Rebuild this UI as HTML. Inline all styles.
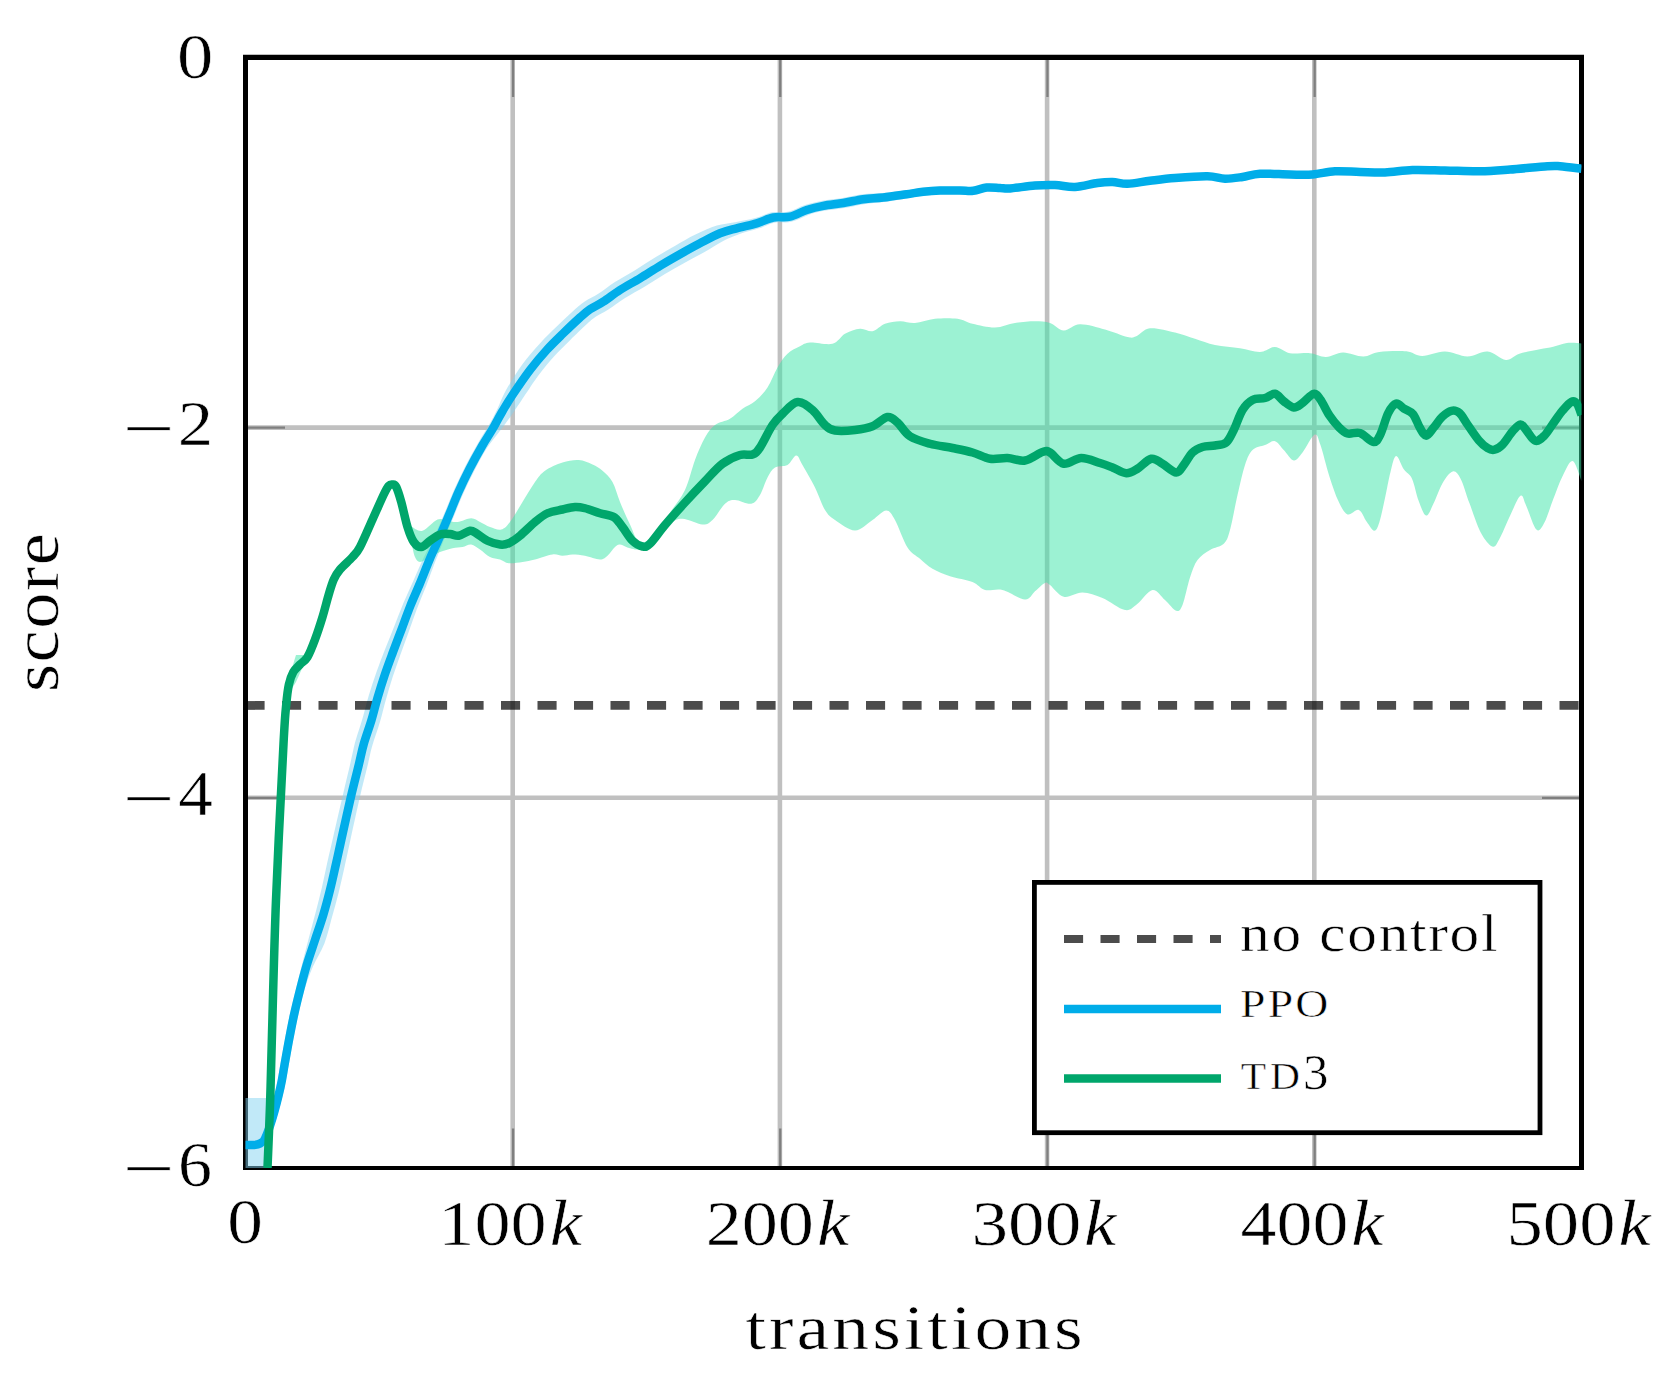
<!DOCTYPE html>
<html lang="en"><head><meta charset="utf-8"><title>score vs transitions</title>
<style>html,body{margin:0;padding:0;background:#fff}svg{display:block}text{font-family:"Liberation Serif",serif;fill:#000;stroke:#fff;stroke-width:0.55px}</style></head><body>
<svg width="1680" height="1390" viewBox="0 0 1680 1390">
<rect width="1680" height="1390" fill="#fff"/>
<path d="M512.70,57.4V1168.0M779.90,57.4V1168.0M1047.10,57.4V1168.0M1314.30,57.4V1168.0M245.5,427.60H1581.5M245.5,797.80H1581.5" stroke="#c0c0c0" stroke-width="4.6" fill="none"/>
<path d="M513.05,57.4v39.5M513.05,1168.0v-39.5M780.25,57.4v39.5M780.25,1168.0v-39.5M1047.45,57.4v39.5M1047.45,1168.0v-39.5M1314.65,57.4v39.5M1314.65,1168.0v-39.5M245.5,427.60h39.5M1581.5,427.60h-39.5M245.5,797.80h39.5M1581.5,797.80h-39.5" stroke="#7f7f7f" stroke-width="2.3" fill="none"/>
<path d="M243,54.8H1584V1170H243ZM248,60V1166H1579V60Z" fill="#000" fill-rule="evenodd"/>
<clipPath id="c"><rect x="245" y="57.4" width="1336.5" height="1110.6"/></clipPath>
<g clip-path="url(#c)" fill="none" stroke-linejoin="round">
<path d="M245.5,1098H270V1170H245.5Z" fill="rgb(131,211,242)" fill-opacity="0.5"/>
<path d="M268.62,1117.00C269.94,1111.85 274.56,1094.89 276.54,1086.10C278.51,1077.32 279.07,1072.08 280.48,1064.27C281.88,1056.46 283.37,1047.59 284.95,1039.23C286.53,1030.87 288.11,1022.48 289.94,1014.11C291.77,1005.73 293.89,997.37 295.93,988.96C297.97,980.55 300.04,972.13 302.19,963.63C304.34,955.13 306.60,946.45 308.83,937.96C311.06,929.47 313.41,921.03 315.57,912.70C317.73,904.36 319.85,896.22 321.79,887.95C323.72,879.68 325.34,871.38 327.19,863.07C329.05,854.77 330.31,849.39 332.90,838.15C335.49,826.90 339.81,808.16 342.74,795.63C345.66,783.10 348.34,771.98 350.44,762.98C352.54,753.98 353.27,749.21 355.33,741.61C357.39,734.02 360.58,725.10 362.82,717.41C365.06,709.71 366.52,702.98 368.79,695.44C371.05,687.91 373.69,679.93 376.42,672.21C379.16,664.49 382.20,656.78 385.18,649.11C388.16,641.44 391.26,633.86 394.29,626.21C397.32,618.57 400.13,610.87 403.35,603.22C406.58,595.57 410.25,587.92 413.64,580.32C417.03,572.71 420.22,564.97 423.70,557.58C427.18,550.19 431.07,543.38 434.53,535.97C437.99,528.55 441.23,520.76 444.47,513.10C447.72,505.44 450.56,497.72 453.99,489.99C457.43,482.26 461.12,474.48 465.08,466.73C469.05,458.98 473.85,450.36 477.77,443.50C481.70,436.64 485.34,431.38 488.63,425.58C491.92,419.78 494.63,414.53 497.49,408.69C500.36,402.85 501.65,397.94 505.81,390.54C509.97,383.13 516.79,372.07 522.44,364.25C528.08,356.44 533.98,349.93 539.70,343.65C545.42,337.37 551.06,332.09 556.73,326.57C562.40,321.05 569.06,314.74 573.73,310.55C578.40,306.37 580.67,304.26 584.76,301.48C588.86,298.70 593.25,297.09 598.28,293.85C603.31,290.62 608.81,286.02 614.95,282.07C621.08,278.13 628.40,274.25 635.08,270.17C641.77,266.09 648.35,261.65 655.05,257.58C661.74,253.51 668.51,249.57 675.24,245.75C681.98,241.92 688.53,237.97 695.46,234.61C702.40,231.26 710.26,227.69 716.86,225.62C723.46,223.55 728.66,223.46 735.03,222.19C741.41,220.92 748.93,219.65 755.14,218.00C761.34,216.34 766.64,213.34 772.26,212.27C777.88,211.20 783.38,212.78 788.85,211.58C794.32,210.38 799.51,206.88 805.09,205.08C810.67,203.27 816.10,201.94 822.34,200.76C828.57,199.58 835.76,199.08 842.47,197.99C849.19,196.90 855.90,195.06 862.62,194.23C869.33,193.39 875.53,193.64 882.78,192.97C890.03,192.31 899.45,191.12 906.13,190.25C912.81,189.38 917.24,188.37 922.86,187.76C928.49,187.14 933.68,186.75 939.87,186.56C946.07,186.36 954.54,186.52 960.04,186.59C965.53,186.65 968.49,187.42 972.87,186.93C977.24,186.44 981.75,184.11 986.30,183.64C990.85,183.18 996.26,183.98 1000.17,184.15C1004.07,184.32 1003.97,185.07 1009.73,184.67C1015.48,184.26 1027.14,182.28 1034.70,181.70C1042.27,181.13 1048.46,180.97 1055.14,181.22C1061.83,181.48 1067.85,183.57 1074.82,183.25C1081.80,182.94 1090.71,180.14 1097.01,179.31C1103.30,178.49 1107.53,178.18 1112.59,178.30C1117.65,178.43 1121.22,180.27 1127.38,180.08C1133.54,179.88 1141.67,178.08 1149.56,177.13C1157.45,176.19 1165.05,175.14 1174.72,174.40C1184.38,173.66 1199.16,172.55 1207.55,172.69C1215.95,172.82 1219.33,175.08 1225.08,175.22C1230.82,175.35 1236.21,174.35 1242.00,173.52C1247.79,172.70 1251.81,170.68 1259.82,170.27C1267.82,169.86 1281.31,170.92 1290.05,171.06C1298.79,171.20 1304.79,171.63 1312.25,171.10C1319.72,170.57 1326.85,168.28 1334.82,167.88C1342.79,167.47 1351.74,168.44 1360.08,168.66C1368.43,168.88 1376.16,169.52 1384.87,169.20C1393.59,168.87 1402.36,167.05 1412.39,166.73C1422.42,166.41 1433.80,167.05 1445.06,167.28C1456.32,167.50 1469.17,168.23 1479.95,168.08C1490.74,167.93 1498.54,167.20 1509.77,166.38C1520.99,165.56 1538.89,163.71 1547.30,163.18C1555.71,162.65 1554.47,162.77 1560.22,163.20C1565.98,163.63 1578.25,165.32 1581.85,165.74L1581.15,171.76C1577.59,171.35 1565.35,169.71 1559.78,169.30C1554.20,168.89 1555.96,168.77 1547.70,169.32C1539.44,169.87 1521.51,171.77 1510.23,172.62C1498.96,173.47 1490.93,174.24 1480.05,174.42C1469.17,174.60 1456.18,173.91 1444.94,173.72C1433.70,173.53 1422.58,172.92 1412.61,173.27C1402.64,173.61 1393.91,175.46 1385.13,175.80C1376.34,176.15 1368.24,175.54 1359.92,175.34C1351.59,175.15 1343.04,174.20 1335.18,174.62C1327.32,175.05 1320.28,177.35 1312.75,177.90C1305.21,178.45 1298.71,178.05 1289.95,177.94C1281.19,177.83 1268.01,176.81 1260.18,177.23C1252.36,177.65 1248.87,179.63 1243.00,180.48C1237.12,181.32 1230.85,182.40 1224.92,182.28C1219.00,182.17 1215.72,179.93 1207.45,179.81C1199.17,179.70 1184.78,180.84 1175.28,181.60C1165.78,182.36 1158.38,183.40 1150.44,184.37C1142.49,185.34 1133.96,187.20 1127.62,187.42C1121.28,187.64 1117.35,185.82 1112.41,185.70C1107.47,185.57 1104.20,185.84 1097.99,186.69C1091.79,187.53 1082.37,190.40 1075.18,190.75C1067.99,191.09 1061.51,189.02 1054.86,188.78C1048.21,188.53 1042.73,188.70 1035.30,189.30C1027.86,189.89 1016.18,191.91 1010.27,192.33C1004.36,192.76 1003.70,192.02 999.83,191.85C995.97,191.69 991.45,190.89 987.10,191.36C982.75,191.82 978.26,194.16 973.73,194.67C969.21,195.18 965.57,194.45 959.96,194.41C954.36,194.38 946.17,194.24 940.13,194.44C934.09,194.65 929.21,195.02 923.74,195.64C918.26,196.26 913.93,197.09 907.27,198.15C900.62,199.21 891.04,201.02 883.82,202.03C876.61,203.03 870.60,203.18 863.98,204.17C857.37,205.17 850.75,206.90 844.13,208.01C837.51,209.12 830.23,209.69 824.26,210.84C818.30,211.99 813.83,213.09 808.31,214.92C802.79,216.75 796.81,220.52 791.15,221.82C785.49,223.12 779.82,221.60 774.34,222.73C768.86,223.86 764.26,226.66 758.26,228.60C752.27,230.55 744.22,232.35 738.37,234.41C732.51,236.48 728.78,238.05 723.14,240.98C717.50,243.91 710.94,248.37 704.54,251.99C698.14,255.60 691.35,258.98 684.76,262.65C678.16,266.33 671.59,270.06 664.95,274.02C658.31,277.99 651.57,282.44 644.92,286.43C638.27,290.41 631.15,294.07 625.05,297.93C618.95,301.78 613.29,306.37 608.32,309.55C603.36,312.72 598.94,314.48 595.28,316.98C591.62,319.48 590.57,320.68 586.37,324.55C582.16,328.43 575.45,334.88 570.05,340.22C564.65,345.56 559.33,350.64 553.98,356.61C548.63,362.58 543.42,368.68 537.96,376.05C532.50,383.42 525.77,394.10 521.22,400.82C516.67,407.54 514.33,411.22 510.67,416.39C507.01,421.55 503.27,426.44 499.26,431.81C495.25,437.17 490.80,442.01 486.60,448.60C482.39,455.19 477.95,463.75 474.03,471.33C470.11,478.90 466.49,486.44 463.07,494.04C459.66,501.64 456.75,509.24 453.55,516.91C450.35,524.57 446.97,532.46 443.87,540.03C440.77,547.61 437.86,554.76 434.95,562.35C432.03,569.95 429.37,577.89 426.37,585.60C423.38,593.32 419.91,601.00 416.97,608.67C414.04,616.34 411.51,623.97 408.75,631.65C405.99,639.33 403.10,647.07 400.39,654.73C397.68,662.39 394.94,670.01 392.48,677.62C390.03,685.23 387.78,692.92 385.66,700.39C383.54,707.87 382.02,714.81 379.77,722.47C377.51,730.13 374.20,738.94 372.11,746.37C370.02,753.80 369.37,758.21 367.23,767.06C365.10,775.92 362.19,787.02 359.31,799.50C356.43,811.98 352.42,830.69 349.95,841.93C347.49,853.18 346.39,858.60 344.52,866.97C342.65,875.35 340.84,883.75 338.73,892.18C336.62,900.62 334.24,909.09 331.87,917.59C329.50,926.08 327.67,934.93 324.50,943.13C321.32,951.34 316.22,958.84 312.82,966.82C309.41,974.80 306.53,982.86 304.07,991.04C301.61,999.22 299.90,1007.60 298.06,1015.89C296.22,1024.18 294.64,1032.46 293.05,1040.77C291.46,1049.08 289.96,1057.87 288.52,1065.73C287.09,1073.58 286.49,1079.02 284.46,1087.90C282.44,1096.78 277.72,1113.82 276.38,1119.00Z" fill="rgb(131,211,242)" fill-opacity="0.5"/>
<path d="M412.00,527.00C413.75,527.62 418.25,532.00 422.50,530.75C426.75,529.50 433.33,521.17 437.50,519.50C441.67,517.83 444.17,520.33 447.50,520.75C450.83,521.17 453.54,522.42 457.50,522.00C461.46,521.58 467.50,518.25 471.25,518.25C475.00,518.25 476.88,520.54 480.00,522.00C483.12,523.46 486.46,525.75 490.00,527.00C493.54,528.25 497.92,530.33 501.25,529.50C504.58,528.67 506.46,526.58 510.00,522.00C513.54,517.42 518.33,508.67 522.50,502.00C526.67,495.33 531.25,487.21 535.00,482.00C538.75,476.79 540.42,474.00 545.00,470.75C549.58,467.50 556.88,464.29 562.50,462.50C568.12,460.71 573.75,459.67 578.75,460.00C583.75,460.33 588.54,462.71 592.50,464.50C596.46,466.29 599.17,467.83 602.50,470.75C605.83,473.67 609.58,476.79 612.50,482.00C615.42,487.21 617.08,494.92 620.00,502.00C622.92,509.08 626.67,517.67 630.00,524.50C633.33,531.33 635.83,541.58 640.00,543.00C644.17,544.42 650.00,538.08 655.00,533.00C660.00,527.92 665.00,519.67 670.00,512.50C675.00,505.33 680.83,498.75 685.00,490.00C689.17,481.25 691.67,468.75 695.00,460.00C698.33,451.25 701.67,443.33 705.00,437.50C708.33,431.67 710.83,428.12 715.00,425.00C719.17,421.88 725.42,421.46 730.00,418.75C734.58,416.04 738.33,411.67 742.50,408.75C746.67,405.83 750.83,404.79 755.00,401.25C759.17,397.71 763.75,393.12 767.50,387.50C771.25,381.88 774.17,373.12 777.50,367.50C780.83,361.88 783.75,357.29 787.50,353.75C791.25,350.21 796.25,348.12 800.00,346.25C803.75,344.38 804.58,342.92 810.00,342.50C815.42,342.08 826.67,345.21 832.50,343.75C838.33,342.29 840.42,336.25 845.00,333.75C849.58,331.25 855.42,329.17 860.00,328.75C864.58,328.33 868.33,332.08 872.50,331.25C876.67,330.42 880.42,325.42 885.00,323.75C889.58,322.08 895.00,321.38 900.00,321.25C905.00,321.12 909.17,323.42 915.00,323.00C920.83,322.58 927.92,319.46 935.00,318.75C942.08,318.04 951.25,317.92 957.50,318.75C963.75,319.58 966.25,322.29 972.50,323.75C978.75,325.21 987.92,327.62 995.00,327.50C1002.08,327.38 1008.33,324.04 1015.00,323.00C1021.67,321.96 1029.17,321.25 1035.00,321.25C1040.83,321.25 1045.21,321.46 1050.00,323.00C1054.79,324.54 1058.75,330.29 1063.75,330.50C1068.75,330.71 1073.12,324.42 1080.00,324.25C1086.88,324.08 1097.08,327.38 1105.00,329.50C1112.92,331.62 1122.29,335.88 1127.50,337.00C1132.71,338.12 1132.50,337.71 1136.25,336.25C1140.00,334.79 1143.54,328.88 1150.00,328.25C1156.46,327.62 1167.50,330.75 1175.00,332.50C1182.50,334.25 1188.33,336.67 1195.00,338.75C1201.67,340.83 1207.50,343.42 1215.00,345.00C1222.50,346.58 1232.50,347.08 1240.00,348.25C1247.50,349.42 1254.17,352.21 1260.00,352.00C1265.83,351.79 1270.00,346.79 1275.00,347.00C1280.00,347.21 1284.17,352.21 1290.00,353.25C1295.83,354.29 1304.00,352.62 1310.00,353.25C1316.00,353.88 1320.50,357.12 1326.00,357.00C1331.50,356.88 1336.78,352.58 1343.00,352.50C1349.22,352.42 1357.27,356.58 1363.30,356.50C1369.33,356.42 1372.03,352.87 1379.20,352.00C1386.37,351.13 1399.15,350.62 1406.30,351.30C1413.45,351.98 1415.68,356.05 1422.10,356.10C1428.52,356.15 1437.25,351.53 1444.80,351.60C1452.35,351.67 1460.25,356.50 1467.40,356.50C1474.55,356.50 1481.30,351.02 1487.70,351.60C1494.10,352.18 1500.52,359.63 1505.80,360.00C1511.08,360.37 1513.73,355.58 1519.40,353.80C1525.07,352.02 1534.15,350.47 1539.80,349.30C1545.45,348.13 1548.78,347.85 1553.30,346.80C1557.82,345.75 1562.20,343.57 1566.90,343.00C1571.60,342.43 1579.07,343.33 1581.50,343.40L1581.50,481.00C1580.02,477.67 1575.78,461.77 1572.60,461.00C1569.42,460.23 1565.62,470.07 1562.40,476.40C1559.18,482.73 1556.32,491.27 1553.30,499.00C1550.28,506.73 1547.12,517.70 1544.30,522.80C1541.48,527.90 1539.42,532.43 1536.40,529.60C1533.38,526.77 1528.85,511.45 1526.20,505.80C1523.55,500.15 1523.13,494.18 1520.50,495.70C1517.87,497.22 1513.98,507.55 1510.40,514.90C1506.82,522.25 1502.02,534.53 1499.00,539.80C1495.98,545.07 1495.30,547.63 1492.30,546.50C1489.30,545.37 1484.78,540.15 1481.00,533.00C1477.22,525.85 1473.00,512.65 1469.60,503.60C1466.20,494.55 1463.42,484.05 1460.60,478.70C1457.78,473.35 1455.72,470.75 1452.70,471.50C1449.68,472.25 1445.70,477.85 1442.50,483.20C1439.30,488.55 1436.22,498.20 1433.50,503.60C1430.78,509.00 1428.65,515.98 1426.20,515.60C1423.75,515.22 1421.17,507.45 1418.80,501.30C1416.43,495.15 1414.47,483.98 1412.00,478.70C1409.53,473.42 1406.65,473.38 1404.00,469.60C1401.35,465.82 1398.35,455.62 1396.10,456.00C1393.85,456.38 1392.38,464.73 1390.50,471.90C1388.62,479.07 1386.68,490.52 1384.80,499.00C1382.92,507.48 1380.97,517.52 1379.20,522.80C1377.43,528.08 1376.28,530.88 1374.20,530.70C1372.12,530.52 1369.27,525.17 1366.70,521.70C1364.13,518.23 1362.00,511.12 1358.80,509.90C1355.60,508.68 1350.88,515.83 1347.50,514.40C1344.12,512.97 1341.52,507.63 1338.50,501.30C1335.48,494.97 1332.42,485.82 1329.40,476.40C1326.38,466.98 1322.85,451.77 1320.40,444.80C1317.95,437.83 1317.68,433.32 1314.70,434.60C1311.72,435.88 1305.99,448.18 1302.50,452.50C1299.01,456.82 1296.88,460.92 1293.75,460.50C1290.62,460.08 1286.88,453.21 1283.75,450.00C1280.62,446.79 1278.12,442.08 1275.00,441.25C1271.88,440.42 1268.75,443.54 1265.00,445.00C1261.25,446.46 1255.83,446.67 1252.50,450.00C1249.17,453.33 1247.50,457.50 1245.00,465.00C1242.50,472.50 1240.00,484.17 1237.50,495.00C1235.00,505.83 1232.29,521.88 1230.00,530.00C1227.71,538.12 1227.08,540.42 1223.75,543.75C1220.42,547.08 1214.38,547.29 1210.00,550.00C1205.62,552.71 1200.83,555.42 1197.50,560.00C1194.17,564.58 1192.50,570.00 1190.00,577.50C1187.50,585.00 1184.79,599.46 1182.50,605.00C1180.21,610.54 1179.17,611.58 1176.25,610.75C1173.33,609.92 1168.96,603.46 1165.00,600.00C1161.04,596.54 1157.08,589.38 1152.50,590.00C1147.92,590.62 1142.08,600.42 1137.50,603.75C1132.92,607.08 1130.83,610.96 1125.00,610.00C1119.17,609.04 1109.58,600.92 1102.50,598.00C1095.42,595.08 1088.96,592.71 1082.50,592.50C1076.04,592.29 1069.17,598.00 1063.75,596.75C1058.33,595.50 1053.12,587.29 1050.00,585.00C1046.88,582.71 1047.50,581.96 1045.00,583.00C1042.50,584.04 1038.33,588.50 1035.00,591.25C1031.67,594.00 1030.42,599.71 1025.00,599.50C1019.58,599.29 1009.17,591.58 1002.50,590.00C995.83,588.42 990.00,591.33 985.00,590.00C980.00,588.67 978.33,584.29 972.50,582.00C966.67,579.71 956.67,578.46 950.00,576.25C943.33,574.04 937.50,571.67 932.50,568.75C927.50,565.83 924.17,562.29 920.00,558.75C915.83,555.21 911.67,553.96 907.50,547.50C903.33,541.04 898.54,526.17 895.00,520.00C891.46,513.83 890.00,510.50 886.25,510.50C882.50,510.50 877.71,516.67 872.50,520.00C867.29,523.33 861.25,530.50 855.00,530.50C848.75,530.50 840.00,523.42 835.00,520.00C830.00,516.58 828.33,515.42 825.00,510.00C821.67,504.58 818.75,495.00 815.00,487.50C811.25,480.00 805.62,470.33 802.50,465.00C799.38,459.67 798.75,455.50 796.25,455.50C793.75,455.50 791.04,463.00 787.50,465.00C783.96,467.00 778.33,465.42 775.00,467.50C771.67,469.58 770.00,472.92 767.50,477.50C765.00,482.08 762.71,490.62 760.00,495.00C757.29,499.38 755.42,502.92 751.25,503.75C747.08,504.58 739.38,500.00 735.00,500.00C730.62,500.00 728.75,500.42 725.00,503.75C721.25,507.08 716.25,516.54 712.50,520.00C708.75,523.46 707.50,524.71 702.50,524.50C697.50,524.29 687.92,518.88 682.50,518.75C677.08,518.62 674.58,520.21 670.00,523.75C665.42,527.29 660.00,535.79 655.00,540.00C650.00,544.21 644.17,547.62 640.00,549.00C635.83,550.38 633.33,549.00 630.00,548.25C626.67,547.50 622.50,544.71 620.00,544.50C617.50,544.29 617.08,545.12 615.00,547.00C612.92,548.88 610.00,553.67 607.50,555.75C605.00,557.83 603.75,559.50 600.00,559.50C596.25,559.50 589.58,556.58 585.00,555.75C580.42,554.92 576.25,554.50 572.50,554.50C568.75,554.50 565.83,555.75 562.50,555.75C559.17,555.75 557.08,553.88 552.50,554.50C547.92,555.12 540.00,558.25 535.00,559.50C530.00,560.75 526.88,561.38 522.50,562.00C518.12,562.62 512.50,563.67 508.75,563.25C505.00,562.83 503.12,560.54 500.00,559.50C496.88,558.46 493.33,558.67 490.00,557.00C486.67,555.33 483.12,551.58 480.00,549.50C476.88,547.42 474.17,544.92 471.25,544.50C468.33,544.08 465.62,546.38 462.50,547.00C459.38,547.62 456.25,547.42 452.50,548.25C448.75,549.08 443.75,550.54 440.00,552.00C436.25,553.46 433.33,555.33 430.00,557.00C426.67,558.67 422.50,562.00 420.00,562.00C417.50,562.00 416.33,559.83 415.00,557.00C413.67,554.17 412.50,547.00 412.00,545.00Z" fill="rgb(58,229,168)" fill-opacity="0.5"/>
<path d="M292,668 L296,655 L303,655 L304,664 L296,682 L291,690Z" fill="rgb(58,229,168)" fill-opacity="0.5"/>
<path d="M245.5,705.46H1581.5" stroke="#000" stroke-opacity="0.7" stroke-width="8.8" stroke-dasharray="19.1 17.4"/>
<path d="M245.50,1145.00C246.92,1145.00 251.58,1145.25 254.00,1145.00C256.42,1144.75 258.17,1144.58 260.00,1143.50C261.83,1142.42 262.92,1142.75 265.00,1138.50C267.08,1134.25 269.92,1126.58 272.50,1118.00C275.08,1109.42 278.50,1095.83 280.50,1087.00C282.50,1078.17 283.08,1072.83 284.50,1065.00C285.92,1057.17 287.42,1048.33 289.00,1040.00C290.58,1031.67 292.17,1023.33 294.00,1015.00C295.83,1006.67 297.88,998.33 300.00,990.00C302.12,981.67 304.25,973.33 306.75,965.00C309.25,956.67 312.25,948.33 315.00,940.00C317.75,931.67 320.75,923.33 323.25,915.00C325.75,906.67 327.92,898.33 330.00,890.00C332.08,881.67 333.88,873.33 335.75,865.00C337.62,856.67 338.75,851.25 341.25,840.00C343.75,828.75 347.83,810.00 350.75,797.50C353.67,785.00 356.58,773.92 358.75,765.00C360.92,756.08 361.62,751.50 363.75,744.00C365.88,736.50 369.21,727.67 371.50,720.00C373.79,712.33 375.30,705.50 377.50,698.00C379.70,690.50 382.12,682.67 384.70,675.00C387.28,667.33 390.17,659.67 393.00,652.00C395.83,644.33 398.82,636.67 401.70,629.00C404.58,621.33 407.23,613.67 410.30,606.00C413.37,598.33 416.92,590.67 420.10,583.00C423.28,575.33 426.22,567.50 429.40,560.00C432.58,552.50 435.93,545.50 439.20,538.00C442.47,530.50 445.78,522.67 449.00,515.00C452.22,507.33 455.08,499.67 458.50,492.00C461.92,484.33 465.57,476.67 469.50,469.00C473.43,461.33 478.17,452.80 482.10,446.00C486.03,439.20 489.73,433.95 493.10,428.20C496.47,422.45 499.07,417.03 502.30,411.50C505.53,405.97 507.88,401.92 512.50,395.00C517.12,388.08 524.30,377.50 530.00,370.00C535.70,362.50 541.15,356.12 546.70,350.00C552.25,343.88 557.75,338.72 563.30,333.30C568.85,327.88 575.55,321.52 580.00,317.50C584.45,313.48 586.12,311.83 590.00,309.20C593.88,306.57 598.30,304.90 603.30,301.70C608.30,298.50 613.88,293.90 620.00,290.00C626.12,286.10 633.33,282.33 640.00,278.30C646.67,274.27 653.33,269.82 660.00,265.80C666.67,261.78 673.33,257.95 680.00,254.20C686.67,250.45 693.33,246.78 700.00,243.30C706.67,239.82 713.88,235.80 720.00,233.30C726.12,230.80 730.58,229.97 736.70,228.30C742.82,226.63 750.60,225.10 756.70,223.30C762.80,221.50 767.75,218.60 773.30,217.50C778.85,216.40 784.43,217.95 790.00,216.70C795.57,215.45 801.15,211.82 806.70,210.00C812.25,208.18 817.20,206.97 823.30,205.80C829.40,204.63 836.63,204.10 843.30,203.00C849.97,201.90 856.63,200.12 863.30,199.20C869.97,198.28 876.07,198.33 883.30,197.50C890.53,196.67 900.03,195.17 906.70,194.20C913.37,193.23 917.75,192.32 923.30,191.70C928.85,191.08 933.88,190.70 940.00,190.50C946.12,190.30 954.45,190.45 960.00,190.50C965.55,190.55 968.85,191.30 973.30,190.80C977.75,190.30 982.25,187.97 986.70,187.50C991.15,187.03 996.12,187.83 1000.00,188.00C1003.88,188.17 1004.17,188.92 1010.00,188.50C1015.83,188.08 1027.50,186.08 1035.00,185.50C1042.50,184.92 1048.33,184.75 1055.00,185.00C1061.67,185.25 1067.92,187.33 1075.00,187.00C1082.08,186.67 1091.25,183.83 1097.50,183.00C1103.75,182.17 1107.50,181.88 1112.50,182.00C1117.50,182.12 1121.25,183.96 1127.50,183.75C1133.75,183.54 1142.08,181.71 1150.00,180.75C1157.92,179.79 1165.42,178.75 1175.00,178.00C1184.58,177.25 1199.17,176.12 1207.50,176.25C1215.83,176.38 1219.17,178.62 1225.00,178.75C1230.83,178.88 1236.67,177.83 1242.50,177.00C1248.33,176.17 1252.08,174.17 1260.00,173.75C1267.92,173.33 1281.25,174.38 1290.00,174.50C1298.75,174.62 1305.00,175.04 1312.50,174.50C1320.00,173.96 1327.08,171.67 1335.00,171.25C1342.92,170.83 1351.67,171.79 1360.00,172.00C1368.33,172.21 1376.25,172.83 1385.00,172.50C1393.75,172.17 1402.50,170.33 1412.50,170.00C1422.50,169.67 1433.75,170.29 1445.00,170.50C1456.25,170.71 1469.17,171.42 1480.00,171.25C1490.83,171.08 1498.75,170.33 1510.00,169.50C1521.25,168.67 1539.17,166.79 1547.50,166.25C1555.83,165.71 1554.33,165.83 1560.00,166.25C1565.67,166.67 1577.92,168.33 1581.50,168.75" stroke="#00ade9" stroke-width="8.5"/>
<path d="M267.50,1168.00C267.92,1157.58 269.29,1126.33 270.00,1105.50C270.71,1084.67 270.75,1077.25 271.75,1043.00C272.75,1008.75 274.04,949.83 276.00,900.00C277.96,850.17 281.79,776.58 283.50,744.00C285.21,711.42 285.35,714.42 286.25,704.50C287.15,694.58 287.72,689.92 288.90,684.50C290.07,679.08 291.45,675.33 293.30,672.00C295.15,668.67 297.63,667.00 300.00,664.50C302.37,662.00 305.00,661.17 307.50,657.00C310.00,652.83 312.50,646.17 315.00,639.50C317.50,632.83 320.21,624.50 322.50,617.00C324.79,609.50 326.88,600.75 328.75,594.50C330.62,588.25 331.88,583.67 333.75,579.50C335.62,575.33 336.88,573.25 340.00,569.50C343.12,565.75 349.17,560.75 352.50,557.00C355.83,553.25 356.67,553.25 360.00,547.00C363.33,540.75 368.54,528.25 372.50,519.50C376.46,510.75 381.04,500.12 383.75,494.50C386.46,488.88 387.29,487.42 388.75,485.75C390.21,484.08 391.25,484.29 392.50,484.50C393.75,484.71 394.79,484.08 396.25,487.00C397.71,489.92 399.38,495.33 401.25,502.00C403.12,508.67 405.42,520.33 407.50,527.00C409.58,533.67 411.46,538.67 413.75,542.00C416.04,545.33 418.54,547.21 421.25,547.00C423.96,546.79 426.88,542.83 430.00,540.75C433.12,538.67 436.67,535.62 440.00,534.50C443.33,533.38 446.88,533.79 450.00,534.00C453.12,534.21 455.42,536.29 458.75,535.75C462.08,535.21 467.08,531.17 470.00,530.75C472.92,530.33 473.33,531.58 476.25,533.25C479.17,534.92 483.54,538.88 487.50,540.75C491.46,542.62 496.46,544.08 500.00,544.50C503.54,544.92 505.42,544.71 508.75,543.25C512.08,541.79 515.62,539.29 520.00,535.75C524.38,532.21 530.42,525.75 535.00,522.00C539.58,518.25 542.92,515.33 547.50,513.25C552.08,511.17 557.92,510.54 562.50,509.50C567.08,508.46 571.25,507.21 575.00,507.00C578.75,506.79 580.83,507.21 585.00,508.25C589.17,509.29 595.21,511.79 600.00,513.25C604.79,514.71 610.00,514.71 613.75,517.00C617.50,519.29 619.38,523.04 622.50,527.00C625.62,530.96 629.17,537.50 632.50,540.75C635.83,544.00 639.58,546.00 642.50,546.50C645.42,547.00 646.25,547.33 650.00,543.75C653.75,540.17 659.17,531.88 665.00,525.00C670.83,518.12 678.33,509.79 685.00,502.50C691.67,495.21 698.75,487.71 705.00,481.25C711.25,474.79 716.67,468.12 722.50,463.75C728.33,459.38 735.00,456.54 740.00,455.00C745.00,453.46 749.17,455.75 752.50,454.50C755.83,453.25 756.67,452.42 760.00,447.50C763.33,442.58 768.75,430.62 772.50,425.00C776.25,419.38 778.33,417.58 782.50,413.75C786.67,409.92 792.50,402.62 797.50,402.00C802.50,401.38 807.92,406.17 812.50,410.00C817.08,413.83 821.25,421.58 825.00,425.00C828.75,428.42 830.00,429.67 835.00,430.50C840.00,431.33 848.75,430.71 855.00,430.00C861.25,429.29 867.08,428.42 872.50,426.25C877.92,424.08 883.33,417.62 887.50,417.00C891.67,416.38 893.75,419.29 897.50,422.50C901.25,425.71 904.58,432.71 910.00,436.25C915.42,439.79 922.92,441.79 930.00,443.75C937.08,445.71 945.42,446.54 952.50,448.00C959.58,449.46 966.25,450.71 972.50,452.50C978.75,454.29 984.17,457.83 990.00,458.75C995.83,459.67 1001.67,457.71 1007.50,458.00C1013.33,458.29 1019.17,461.50 1025.00,460.50C1030.83,459.50 1038.33,453.33 1042.50,452.00C1046.67,450.67 1046.46,450.54 1050.00,452.50C1053.54,454.46 1058.54,462.83 1063.75,463.75C1068.96,464.67 1075.21,458.12 1081.25,458.00C1087.29,457.88 1094.79,461.42 1100.00,463.00C1105.21,464.58 1108.12,465.79 1112.50,467.50C1116.88,469.21 1122.08,473.04 1126.25,473.25C1130.42,473.46 1133.33,471.17 1137.50,468.75C1141.67,466.33 1147.08,459.58 1151.25,458.75C1155.42,457.92 1158.33,461.46 1162.50,463.75C1166.67,466.04 1172.71,472.29 1176.25,472.50C1179.79,472.71 1181.04,468.33 1183.75,465.00C1186.46,461.67 1189.38,455.50 1192.50,452.50C1195.62,449.50 1198.75,448.17 1202.50,447.00C1206.25,445.83 1211.04,446.25 1215.00,445.50C1218.96,444.75 1223.12,445.08 1226.25,442.50C1229.38,439.92 1231.04,435.42 1233.75,430.00C1236.46,424.58 1239.38,415.00 1242.50,410.00C1245.62,405.00 1248.75,402.00 1252.50,400.00C1256.25,398.00 1261.25,399.04 1265.00,398.00C1268.75,396.96 1271.88,393.21 1275.00,393.75C1278.12,394.29 1280.62,398.96 1283.75,401.25C1286.88,403.54 1290.62,407.21 1293.75,407.50C1296.88,407.79 1299.19,405.27 1302.50,403.00C1305.81,400.73 1310.62,394.48 1313.60,393.90C1316.58,393.32 1317.77,395.92 1320.40,399.50C1323.03,403.08 1326.38,410.87 1329.40,415.40C1332.42,419.93 1335.48,423.68 1338.50,426.70C1341.52,429.72 1343.92,432.45 1347.50,433.50C1351.08,434.55 1355.67,431.58 1360.00,433.00C1364.33,434.42 1370.12,441.73 1373.50,442.00C1376.88,442.27 1377.85,439.42 1380.30,434.60C1382.75,429.78 1385.57,418.27 1388.20,413.10C1390.83,407.93 1393.47,404.35 1396.10,403.60C1398.73,402.85 1401.17,406.83 1404.00,408.60C1406.83,410.37 1410.45,411.00 1413.10,414.20C1415.75,417.40 1417.72,424.22 1419.90,427.80C1422.08,431.38 1423.93,435.70 1426.20,435.70C1428.47,435.70 1430.78,431.00 1433.50,427.80C1436.22,424.60 1439.50,419.33 1442.50,416.50C1445.50,413.67 1448.67,411.37 1451.50,410.80C1454.33,410.23 1456.85,410.83 1459.50,413.10C1462.15,415.37 1464.20,419.88 1467.40,424.40C1470.60,428.92 1475.32,436.23 1478.70,440.20C1482.08,444.17 1485.07,446.62 1487.70,448.20C1490.33,449.78 1492.05,450.27 1494.50,449.70C1496.95,449.13 1499.38,447.88 1502.40,444.80C1505.42,441.72 1509.58,434.60 1512.60,431.20C1515.62,427.80 1518.23,424.58 1520.50,424.40C1522.77,424.22 1523.75,427.38 1526.20,430.10C1528.65,432.82 1532.18,439.77 1535.20,440.70C1538.22,441.63 1541.28,438.60 1544.30,435.70C1547.32,432.80 1550.28,427.45 1553.30,423.30C1556.32,419.15 1559.38,414.38 1562.40,410.80C1565.42,407.22 1568.95,402.93 1571.40,401.80C1573.85,400.67 1575.42,401.80 1577.10,404.00C1578.78,406.20 1580.77,413.17 1581.50,415.00" stroke="#00a66b" stroke-width="8.5"/>
</g>
<rect x="1034.4" y="882.4" width="505.6" height="250.3" fill="#fff" stroke="#000" stroke-width="4.8"/>
<path d="M1064,938.9H1221" stroke="#000" stroke-opacity="0.7" stroke-width="8.0" stroke-dasharray="19.1 17.4" fill="none"/>
<path d="M1064,1009H1221" stroke="#00ade9" stroke-width="8.5" fill="none"/>
<path d="M1064,1078.5H1221" stroke="#00a66b" stroke-width="8.5" fill="none"/>
<text transform="translate(1240.12,951.25) scale(1.1400,1)" font-size="52" letter-spacing="1.493">no control</text>
<text transform="translate(1240.10,1017.10) scale(1.1600,1)" font-size="39.5" letter-spacing="1.787">PPO</text>
<g><text transform="translate(1240.73,1088.60) scale(1.0800,1)" font-size="38.5" letter-spacing="3.713">TD</text><text transform="translate(1303.03,1088.80) scale(0.9976,1)" font-size="51">3</text></g>
<text transform="translate(176.91,78.40) scale(1.1339,1)" font-size="64">0</text>
<g><text transform="translate(122.48,450.00) scale(1.4460,1)" font-size="64" stroke="#000" stroke-width="0.3">−</text><text transform="translate(177.76,445.00) scale(1.1068,1)" font-size="64">2</text></g>
<g><text transform="translate(122.48,820.00) scale(1.4460,1)" font-size="64" stroke="#000" stroke-width="0.3">−</text><text transform="translate(178.15,815.00) scale(1.0824,1)" font-size="64">4</text></g>
<g><text transform="translate(122.48,1190.00) scale(1.4460,1)" font-size="64" stroke="#000" stroke-width="0.3">−</text><text transform="translate(178.08,1185.50) scale(1.0630,1)" font-size="64">6</text></g>
<text transform="translate(227.15,1242.50) scale(1.1156,1)" font-size="64">0</text>
<g><text transform="translate(438.35,1245.20) scale(1.1295,1)" font-size="64">100</text><text transform="translate(549.71,1244.90) scale(1.1143,1)" font-size="65" font-style="italic">k</text></g>
<g><text transform="translate(705.65,1245.20) scale(1.1285,1)" font-size="64">200</text><text transform="translate(816.91,1244.90) scale(1.1143,1)" font-size="65" font-style="italic">k</text></g>
<g><text transform="translate(971.57,1245.20) scale(1.1421,1)" font-size="64">300</text><text transform="translate(1084.11,1244.90) scale(1.1143,1)" font-size="65" font-style="italic">k</text></g>
<g><text transform="translate(1240.60,1245.20) scale(1.1226,1)" font-size="64">400</text><text transform="translate(1351.31,1244.90) scale(1.1143,1)" font-size="65" font-style="italic">k</text></g>
<g><text transform="translate(1506.48,1245.20) scale(1.1367,1)" font-size="64">500</text><text transform="translate(1618.51,1244.90) scale(1.1143,1)" font-size="65" font-style="italic">k</text></g>
<text transform="translate(745.48,1349.00) scale(1.1500,1)" font-size="64" letter-spacing="2.668">transitions</text>
<text transform="translate(57.8,692.09) rotate(-90) scale(1.1,1)" font-size="66" letter-spacing="1.284">score</text>
</svg></body></html>
